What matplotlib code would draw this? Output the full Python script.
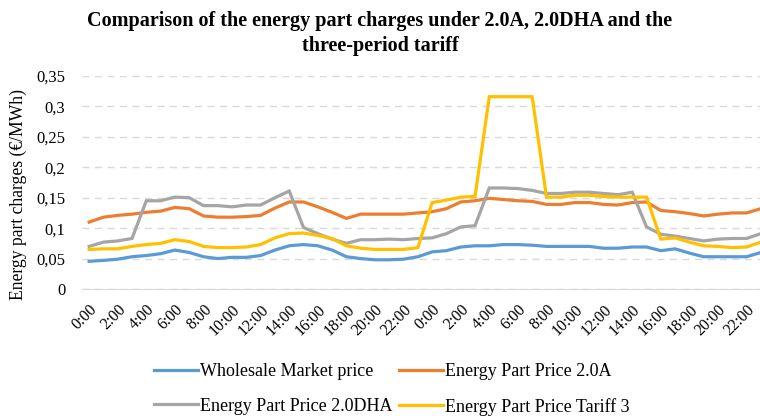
import matplotlib.pyplot as plt
from matplotlib.ticker import FixedLocator

plt.rcParams['font.family'] = ['Liberation Serif', 'DejaVu Serif']

horas = [f"{h}:00" for h in range(24)] * 2

wholesale = [0.0455, 0.047, 0.049, 0.053, 0.055, 0.058, 0.064, 0.060, 0.053, 0.050,
             0.052, 0.052, 0.055, 0.064, 0.071, 0.073, 0.071, 0.064, 0.053, 0.050,
             0.048, 0.048, 0.049, 0.053,
             0.061, 0.063, 0.069, 0.071, 0.071, 0.073, 0.073, 0.072, 0.070, 0.070,
             0.070, 0.070, 0.067, 0.067, 0.069, 0.069, 0.063, 0.066, 0.059, 0.053,
             0.053, 0.053, 0.053, 0.060]

precio_20a = [0.110, 0.118, 0.121, 0.123, 0.126, 0.128, 0.134, 0.132, 0.120, 0.118,
              0.118, 0.119, 0.121, 0.133, 0.143, 0.143, 0.135, 0.126, 0.116, 0.123,
              0.123, 0.123, 0.123, 0.125,
              0.127, 0.132, 0.143, 0.145, 0.149, 0.147, 0.145, 0.144, 0.139, 0.139,
              0.142, 0.142, 0.139, 0.138, 0.142, 0.143, 0.129, 0.127, 0.124, 0.120,
              0.123, 0.125, 0.125, 0.132]

precio_20dha = [0.070, 0.077, 0.079, 0.083, 0.145, 0.145, 0.151, 0.150, 0.137, 0.137,
                0.135, 0.138, 0.138, 0.150, 0.161, 0.101, 0.091, 0.082, 0.075, 0.081,
                0.081, 0.082, 0.081, 0.083,
                0.084, 0.091, 0.102, 0.104, 0.166, 0.166, 0.165, 0.162, 0.157, 0.157,
                0.159, 0.159, 0.157, 0.155, 0.159, 0.102, 0.090, 0.087, 0.083, 0.079,
                0.082, 0.083, 0.083, 0.091]

precio_tarifa3 = [0.065, 0.066, 0.066, 0.070, 0.073, 0.075, 0.081, 0.078, 0.070, 0.068,
                  0.068, 0.069, 0.073, 0.084, 0.091, 0.092, 0.088, 0.083, 0.071, 0.067,
                  0.065, 0.065, 0.065, 0.068,
                  0.142, 0.146, 0.151, 0.152, 0.316, 0.316, 0.316, 0.316, 0.151, 0.151,
                  0.154, 0.154, 0.152, 0.151, 0.151, 0.151, 0.082, 0.084, 0.077, 0.071,
                  0.070, 0.068, 0.069, 0.077]

series = [
    ("Wholesale Market price", wholesale, "#5B9BD5"),
    ("Energy Part Price 2.0A", precio_20a, "#ED7D31"),
    ("Energy Part Price 2.0DHA", precio_20dha, "#A5A5A5"),
    ("Energy Part Price Tariff 3", precio_tarifa3, "#FFC000"),
]

fig = plt.figure(figsize=(7.6, 4.16), dpi=100)
ax = fig.add_axes([82 / 760, 1 - 289 / 416, 686 / 760, 213 / 416])

x = list(range(len(horas)))
lineas = []
for nombre, valores, color in series:
    l, = ax.plot(x, valores, color=color, lw=2.3, label=nombre, solid_joinstyle='miter')
    lineas.append(l)

ax.set_xlim(-0.5, len(horas) - 0.5)
ax.set_ylim(0, 0.35)
yt = [0, 0.05, 0.1, 0.15, 0.2, 0.25, 0.3, 0.35]
ax.yaxis.set_major_locator(FixedLocator(yt))
ax.set_yticklabels([("%g" % v).replace(".", ",") for v in yt], fontsize=12)
ax.set_xticks(x[::2])
ax.set_xticklabels(horas[::2], rotation=45, ha='right', rotation_mode='anchor', fontsize=11.5)
ax.tick_params(axis='y', length=0, pad=12)
ax.tick_params(axis='x', length=0, pad=9)

ax.grid(axis='y', color='#D9D9D9', linestyle=(0, (5, 4)), lw=1)
for s in ['top', 'right', 'left']:
    ax.spines[s].set_visible(False)
ax.spines['bottom'].set_color('#D9D9D9')
ax.set_axisbelow(True)

ax.set_ylabel("Energy part charges (€/MWh)", fontsize=12.7)
ax.yaxis.set_label_coords(-0.08, 0.446)
fig.suptitle("Comparison of the energy part charges under 2.0A, 2.0DHA and the\nthree-period tariff",
             fontsize=14.5, fontweight='bold', y=0.973, linespacing=1.3)

# orden fila a fila como en la figura original
orden = [0, 2, 1, 3]
fig.legend([lineas[i] for i in orden], [series[i][0] for i in orden],
           loc='center', bbox_to_anchor=(0.516, 0.064), ncol=2, frameon=False,
           fontsize=13, handlelength=2.4, handletextpad=0.15, columnspacing=0.35,
           labelspacing=0.98)

fig.savefig("out.png", dpi=100)
